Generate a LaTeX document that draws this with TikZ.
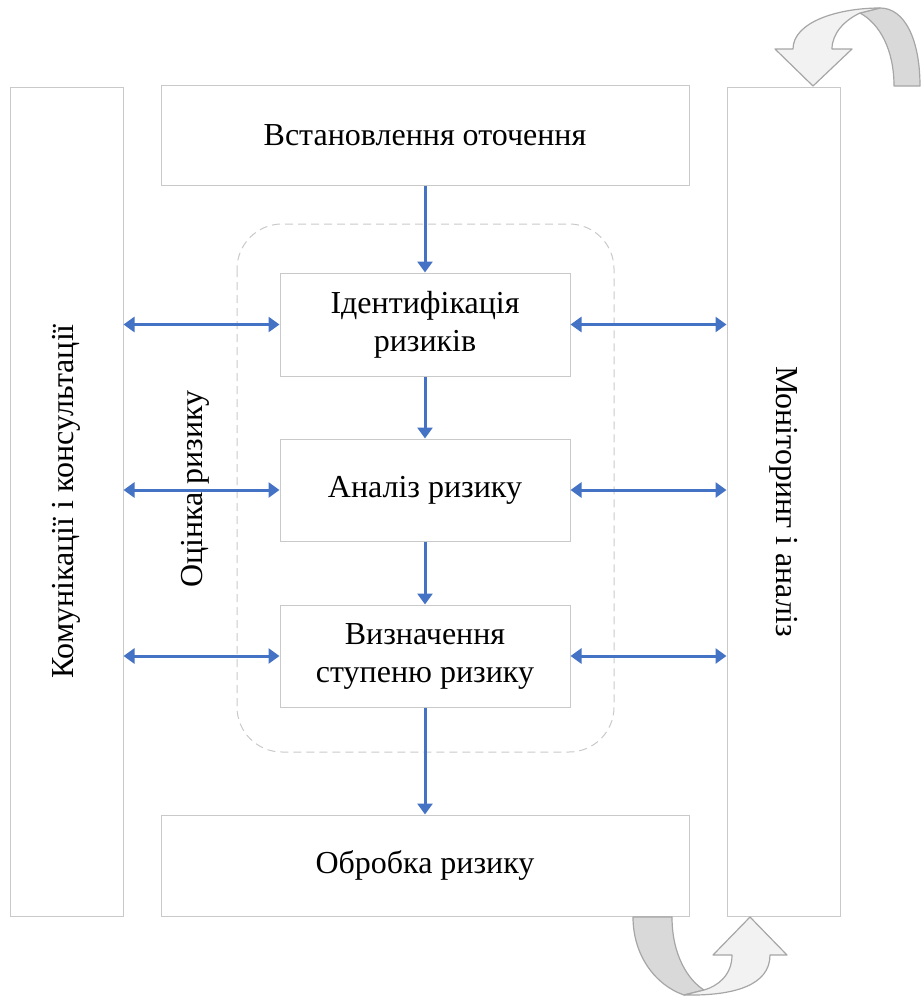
\documentclass[tikz,border=0pt]{standalone}
\usepackage{fontspec}
\setmainfont{Liberation Serif}
\usetikzlibrary{arrows.meta}
\definecolor{boxline}{HTML}{C9C9C9}
\definecolor{flow}{HTML}{4472C4}
\definecolor{ribbonfront}{HTML}{F2F2F2}
\definecolor{ribbonback}{HTML}{D9D9D9}
\definecolor{ribbonline}{HTML}{A6A6A6}
\tikzset{
  bigtext/.style={font=\fontsize{32}{38}\selectfont},
  frame/.style={draw=boxline, line width=1pt, fill=white, inner sep=0pt,
    bigtext, align=center},
  flowarrow/.style={draw=flow, line width=3pt,
    -{Triangle[length=11pt,width=15pt]}},
  twoway/.style={draw=flow, line width=3pt,
    {Triangle[length=11pt,width=15pt]}-{Triangle[length=11pt,width=15pt]}},
  ribbon/.style={draw=ribbonline, line width=1.2pt, line join=round},
}
\begin{document}
\begin{tikzpicture}[x=1pt,y=-1pt]
\useasboundingbox (0,0) rectangle (921,996);

% assessment group outline
\draw[boxline, line width=1pt, dash pattern=on 8pt off 5pt, rounded corners=45pt]
  (237,224) rectangle (614,752);
\node[rotate=90, bigtext] (assess) at (195,489) {Оцінка ризику};

% side columns
\node[frame, minimum width=113pt, minimum height=829pt] (comm) at (66.5,501.5) {};
\node[rotate=90, bigtext] (commtext) at (comm) {Комунікації і консультації};
\node[frame, minimum width=113pt, minimum height=829pt] (mon) at (783.5,501.5) {};
\node[rotate=-90, bigtext] (montext) at (mon) {Моніторинг і аналіз};

% process steps
\node[frame, minimum width=528pt, minimum height=100pt] (ctx) at (425,135) {Встановлення оточення};
\node[frame, minimum width=290pt, minimum height=103pt] (ident) at (425,324.5) {Ідентифікація\\ризиків};
\node[frame, minimum width=290pt, minimum height=102pt] (anal) at (425,490) {Аналіз ризику};
\node[frame, minimum width=290pt, minimum height=102pt] (eval) at (425,656) {Визначення\\ступеню ризику};
\node[frame, minimum width=528pt, minimum height=101pt] (treat) at (425,865.5) {Обробка ризику};

% main flow
\draw[flowarrow] (ctx.south) -- (ident.north);
\draw[flowarrow] (ident.south) -- (anal.north);
\draw[flowarrow] (anal.south) -- (eval.north);
\draw[flowarrow] (eval.south) -- (treat.north);

% links to the side columns
\foreach \n in {ident, anal, eval} {
  \draw[twoway] (comm.east |- \n.west) -- (\n.west);
  \draw[twoway] (\n.east) -- (mon.west |- \n.east);
}

% turning arrow above the monitoring column
\path[ribbon, fill=ribbonback]
  (880,8) .. controls (905,8) and (920,40) .. (920,86)
  -- (894,86) .. controls (894,50) and (880,24) .. (860,13) -- cycle;
\path[ribbon, fill=ribbonfront]
  (793,49) .. controls (793,22) and (838,8) .. (880,8)
  -- (860,13) .. controls (845,20) and (832,33) .. (832,49)
  -- (852,49) -- (813,86) -- (775,49) -- cycle;

% turning arrow below the treatment box
\path[ribbon, fill=ribbonback]
  (633,917) -- (672,917) .. controls (672,955) and (688,980) .. (704,990)
  -- (684,995) .. controls (655,985) and (633,955) .. (633,917) -- cycle;
\path[ribbon, fill=ribbonfront]
  (684,995) .. controls (735,996) and (770,985) .. (770,955)
  -- (787,955) -- (750,917) -- (713,955) -- (732,955)
  .. controls (732,975) and (718,986) .. (704,990) -- cycle;
\end{tikzpicture}
\end{document}
